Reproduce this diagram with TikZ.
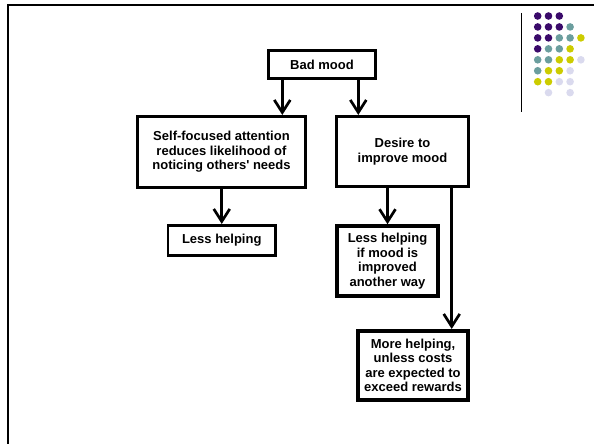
\documentclass[tikz,border=0pt]{standalone}
\usepackage{fontspec}
\setmainfont{Liberation Sans}
\usetikzlibrary{arrows.meta,calc}
\definecolor{dotP}{HTML}{3A0A6A}
\definecolor{dotT}{HTML}{6B9E9E}
\definecolor{dotY}{HTML}{CCCC00}
\definecolor{dotL}{HTML}{DADAEE}
\begin{document}
\begin{tikzpicture}[x=1pt,y=-1pt,
  box/.style={draw,line width=2.6pt,inner sep=0pt,align=center,
    font=\fontsize{13}{14.5}\selectfont\bfseries},
  thickbox/.style={box,line width=3.6pt},
  arr/.style={line width=2.7pt,line join=miter,
    -{Straight Barb[length=12.5pt,width=16pt,line width=2.7pt]}},
  dot/.style={circle,inner sep=0pt,minimum size=7.6pt}]
\useasboundingbox (0,0) rectangle (594,444);
% slide frame
\draw[line width=2pt] (7.7,444) -- (7.7,5) -- (594,5);
% decoration
\draw[line width=1pt] (521.7,13) -- (521.7,112);
\foreach \c/\r/\col in {0/0/dotP,1/0/dotP,2/0/dotP,
  0/1/dotP,1/1/dotP,2/1/dotP,3/1/dotT,
  0/2/dotP,1/2/dotP,2/2/dotT,3/2/dotT,4/2/dotY,
  0/3/dotP,1/3/dotT,2/3/dotT,3/3/dotY,
  0/4/dotT,1/4/dotT,2/4/dotY,3/4/dotY,4/4/dotL,
  0/5/dotT,1/5/dotY,2/5/dotY,3/5/dotL,
  0/6/dotY,1/6/dotY,2/6/dotL,3/6/dotL,
  1/7/dotL,3/7/dotL}
  \node[dot,fill=\col] (d\c\r) at (537.7+10.8*\c,16+10.95*\r) {};
% boxes
\node[box,minimum width=107.5pt,minimum height=28.5pt] (bad) at (322,64.5) {Bad mood};
\node[box,minimum width=168.5pt,minimum height=71.5pt] (self) at (221.5,152)
  {Self-focused attention\\reduces likelihood of\\noticing others\textquotesingle\ needs};
\node[box,minimum width=132.5pt,minimum height=70.5pt] (desire) at (402.5,151.5)
  {Desire to\\improve mood};
\node[box,minimum width=107.5pt,minimum height=30.5pt] (less1) at (221.75,240.5) {Less helping};
\node[thickbox,minimum width=100.5pt,minimum height=70pt] (less2) at (387.5,261)
  {Less helping\\if mood is\\improved\\another way};
\node[thickbox,minimum width=110.5pt,minimum height=69.5pt] (more) at (413,365.5)
  {More helping,\\unless costs\\are expected to\\exceed rewards};
% connector guides
\coordinate (g1) at (282.3,0);
\coordinate (g2) at (358.3,0);
\coordinate (g3) at (451.7,0);
% connectors
\draw[arr] (bad.south -| g1) -- (self.north -| g1);
\draw[arr] (bad.south -| g2) -- (desire.north -| g2);
\draw[arr] (self.south -| less1.north) -- (less1.north);
\draw[arr] (desire.south -| less2.north) -- (less2.north);
\draw[arr] (desire.south -| g3) -- (more.north -| g3);
\end{tikzpicture}
\end{document}
